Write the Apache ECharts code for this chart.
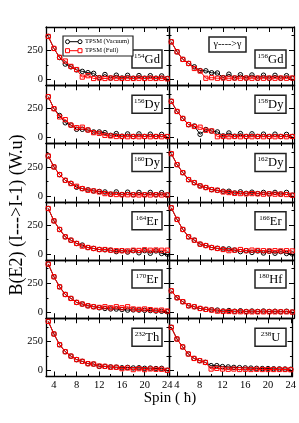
<!DOCTYPE html>
<html><head><meta charset="utf-8">
<script src="https://cdn.jsdelivr.net/npm/echarts@6/dist/echarts.min.js"></script>
<style>html,body{margin:0;padding:0;background:#fff}#c{width:299px;height:423px}</style>
</head><body><div id="c"></div>
<script>
// ---------- data ----------
const spins = [3,4,5,6,7,8,9,10,11,12,13,14,15,16,17,18,19,20,21,22,23,24];
const xMajorTicks = [4,8,12,16,20,24];
const xMinorTicks = [6,10,14,18,22];
const yMajorTicks = [0,250];
const yMinorTicks = [125,375];
const nucleusMass   = ['154','156','156','158','160','162','164','166','170','180','232','238'];
const nucleusSymbol = ['Gd','Gd','Dy','Dy','Dy','Dy','Er','Er','Er','Hf','Th','U'];
const legendNames = ['TPSM (Vacuum)','TPSM (Full)'];
const transitionLabel = 'γ---->γ';
const xTitle = 'Spin ( ħ)';
const yTitle = 'B(E2) (I--->I-1) (W.u)';

const vacuum_154Gd = [369,266,188,132,108,82,69,58,52,15,42,12,36,12,35,10,33,10,32,10,30,8];
const full_154Gd   = [369,266,190,158,112,85,20,32,8,12,8,12,10,8,10,8,10,8,10,8,10,5];
const vacuum_156Gd = [323,237,172,137,108,76,74,57,55,15,45,12,40,12,38,10,36,10,35,10,32,10];
const full_156Gd   = [323,237,172,137,94,72,10,15,10,12,10,12,10,12,10,12,10,12,10,12,10,12];
const vacuum_156Dy = [352,249,190,128,108,72,72,66,49,49,43,20,35,12,32,10,32,10,30,10,28,8];
const full_156Dy   = [352,249,178,155,108,86,90,66,43,37,20,15,10,10,8,10,8,10,8,10,8,10];
const vacuum_158Dy = [312,225,165,112,100,29,70,57,49,15,40,12,35,10,33,10,30,10,30,10,28,10];
const full_158Dy   = [312,225,165,112,96,90,64,58,8,10,8,10,8,10,8,10,8,10,8,10,8,10];
const vacuum_160Dy = [343,249,183,134,108,75,63,52,43,38,34,15,34,12,32,10,30,10,30,10,28,8];
const full_160Dy   = [343,249,183,134,106,83,63,49,43,34,20,15,12,10,10,10,8,10,8,10,8,8];
const vacuum_162Dy = [363,269,200,140,114,86,72,54,48,40,40,25,35,22,32,20,30,18,30,16,30,6];
const full_162Dy   = [363,269,200,140,114,86,72,54,49,34,29,22,20,18,20,18,15,18,15,15,12,6];
const vacuum_164Er = [392,286,212,149,120,92,78,57,49,40,38,34,22,30,18,30,12,30,8,28,6,0];
const full_164Er   = [392,286,212,149,120,92,69,57,49,40,40,34,30,30,28,34,32,38,34,36,34,34];
const vacuum_166Er = [398,298,212,149,120,86,74,57,50,45,45,35,22,30,15,28,10,25,8,22,6,2];
const full_166Er   = [398,298,212,149,120,86,74,57,49,40,30,34,40,30,35,32,30,28,30,28,30,28];
const vacuum_170Er = [415,306,220,154,120,86,72,57,49,40,34,30,29,25,20,22,20,18,16,12,10,6];
const full_170Er   = [415,306,220,154,120,86,72,57,49,43,49,40,49,40,49,30,26,30,24,18,20,12];
const vacuum_180Hf = [186,126,92,57,49,34,26,22,20,12,16,10,14,8,12,8,12,8,10,6,10,3];
const full_180Hf   = [186,126,92,57,49,34,26,20,11,8,8,6,6,5,5,5,5,5,5,5,5,3];
const vacuum_232Th = [423,315,223,163,125,95,80,60,57,37,37,32,30,25,28,23,25,20,22,18,20,3];
const full_232Th   = [423,315,223,163,125,95,80,60,57,40,37,29,29,17,23,9,17,9,15,12,12,3];
const vacuum_238U  = [372,272,204,143,105,86,71,43,43,35,32,28,26,24,22,20,18,18,16,15,14,12];
const full_238U    = [372,272,204,143,105,86,71,14,20,14,12,14,10,12,10,12,10,10,10,10,10,8];

const vacuumSets = [vacuum_154Gd,vacuum_156Gd,vacuum_156Dy,vacuum_158Dy,vacuum_160Dy,vacuum_162Dy,
                    vacuum_164Er,vacuum_166Er,vacuum_170Er,vacuum_180Hf,vacuum_232Th,vacuum_238U];
const fullSets = [full_154Gd,full_156Gd,full_156Dy,full_158Dy,full_160Dy,full_162Dy,
                  full_164Er,full_166Er,full_170Er,full_180Hf,full_232Th,full_238U];

// ---------- layout / style ----------
const FONT = "'Liberation Serif','Times New Roman',serif";
const colLeft = [46, 169], colWidth = [123, 125];
const rowTop0 = 27, rowH = 58.25;
const X_MIN = 2.6, X_MAX = 24.3, Y_MIN = -50, Y_MAX = 450;
const AX = {color:'#000', width:1.3};

const grids = [], xAxes = [], yAxes = [], series = [], graphics = [];

function xAxis(g, pos, major, showLabel){
  return {gridIndex:g, type:'value', min:X_MIN, max:X_MAX, position:pos,
    axisLine:{show:major, onZero:false, lineStyle:AX},
    axisTick:{show:true, inside:true, length: major?5:2.5, customValues: major?xMajorTicks:xMinorTicks, lineStyle:{color:'#000',width:1}},
    axisLabel:{show:showLabel, customValues:xMajorTicks, fontFamily:FONT, fontSize:10.5, color:'#000', margin:3},
    splitLine:{show:false}};
}
function yAxis(g, pos, major, showLabel){
  return {gridIndex:g, type:'value', min:Y_MIN, max:Y_MAX, position:pos,
    axisLine:{show:major, onZero:false, lineStyle:AX},
    axisTick:{show:true, inside:true, length: major?5:2.5, customValues: major?yMajorTicks:yMinorTicks, lineStyle:{color:'#000',width:1}},
    axisLabel:{show:showLabel, customValues:yMajorTicks, fontFamily:FONT, fontSize:10.5, color:'#000', margin:3},
    splitLine:{show:false}};
}

for (let g = 0; g < 12; g++) {
  const r = Math.floor(g/2), c = g % 2;
  const top = rowTop0 + r*rowH;
  grids.push({left:colLeft[c], top:top, width:colWidth[c], height:rowH, containLabel:false});
  const xi = xAxes.length, yi = yAxes.length;
  xAxes.push(xAxis(g,'bottom',true, r===5));
  xAxes.push(xAxis(g,'bottom',false,false));
  xAxes.push(xAxis(g,'top',true,false));
  xAxes.push(xAxis(g,'top',false,false));
  yAxes.push(yAxis(g,'left',true, c===0));
  yAxes.push(yAxis(g,'left',false,false));
  yAxes.push(yAxis(g,'right',true,false));
  yAxes.push(yAxis(g,'right',false,false));
  series.push({type:'line', name:legendNames[0], xAxisIndex:xi, yAxisIndex:yi,
    data: spins.map((s,i)=>[s, vacuumSets[g][i]]),
    symbol:'circle', symbolSize:4.5, z:2, silent:true,
    lineStyle:{color:'#000', width:1},
    itemStyle:{color:'rgba(255,255,255,0)', borderColor:'#000', borderWidth:1}});
  series.push({type:'line', name:legendNames[1], xAxisIndex:xi, yAxisIndex:yi,
    data: spins.map((s,i)=>[s, fullSets[g][i]]),
    symbol:'rect', symbolSize:4.2, z:3, silent:true,
    lineStyle:{color:'#ff0000', width:1},
    itemStyle:{color:'rgba(255,255,255,0)', borderColor:'#ff0000', borderWidth:1}});

  // nucleus label box
  const bw = c===0 ? 30 : 31;
  const bx = colLeft[c] + colWidth[c] - (c===0 ? 37 : 39);
  const by = top + (r===0 ? 23 : 10);
  graphics.push({type:'rect', shape:{x:bx, y:by, width:bw, height:18}, z:10,
    style:{fill:'#fff', stroke:'#222', lineWidth:1.5}});
  graphics.push({type:'text', z:11, style:{
    text:'{s|'+nucleusMass[g]+'}{e|'+nucleusSymbol[g]+'}',
    x:bx+bw/2, y:by+9.5, align:'center', verticalAlign:'middle',
    rich:{s:{fontFamily:FONT, fontSize:7, fill:'#000', verticalAlign:'top', lineHeight:8},
          e:{fontFamily:FONT, fontSize:12.5, fill:'#000', lineHeight:14}}}});
}

// legend box (panel 1)
graphics.push({type:'rect', shape:{x:63, y:36, width:70, height:20}, z:10, style:{fill:'#fff', stroke:'#222', lineWidth:1.2}});
graphics.push({type:'line', shape:{x1:67.5, y1:41.7, x2:80, y2:41.7}, z:11, style:{stroke:'#000', lineWidth:1}});
graphics.push({type:'circle', shape:{cx:67.5, cy:41.7, r:2}, z:12, style:{fill:'#fff', stroke:'#000', lineWidth:1}});
graphics.push({type:'circle', shape:{cx:80, cy:41.7, r:2}, z:12, style:{fill:'#fff', stroke:'#000', lineWidth:1}});
graphics.push({type:'text', z:11, style:{text:legendNames[0], x:85, y:41.7, verticalAlign:'middle', fontFamily:FONT, fontSize:6.5, fill:'#000'}});
graphics.push({type:'line', shape:{x1:67.5, y1:50.7, x2:80, y2:50.7}, z:11, style:{stroke:'#ff0000', lineWidth:1}});
graphics.push({type:'rect', shape:{x:65.5, y:48.7, width:4, height:4}, z:12, style:{fill:'#fff', stroke:'#ff0000', lineWidth:1}});
graphics.push({type:'rect', shape:{x:78, y:48.7, width:4, height:4}, z:12, style:{fill:'#fff', stroke:'#ff0000', lineWidth:1}});
graphics.push({type:'text', z:11, style:{text:legendNames[1], x:85, y:50.7, verticalAlign:'middle', fontFamily:FONT, fontSize:6.5, fill:'#000'}});

// gamma -> gamma box
graphics.push({type:'rect', shape:{x:209, y:37, width:37, height:15}, z:10, style:{fill:'#fff', stroke:'#222', lineWidth:1.5}});
graphics.push({type:'text', z:11, style:{text:transitionLabel, x:227.5, y:44.5, align:'center', verticalAlign:'middle', fontFamily:FONT, fontSize:10, fill:'#000'}});

// axis titles
graphics.push({type:'text', z:11, x:17, y:215, rotation:Math.PI/2, style:{text:yTitle, x:0, y:0, align:'center', verticalAlign:'middle', fontFamily:FONT, fontSize:18, fill:'#000'}});
graphics.push({type:'text', z:11, style:{text:xTitle, x:170, y:398, align:'center', verticalAlign:'middle', fontFamily:FONT, fontSize:15, fill:'#000'}});

const chart = echarts.init(document.getElementById('c'), null, {renderer:'canvas'});
chart.setOption({
  animation:false,
  backgroundColor:'#fff',
  grid:grids, xAxis:xAxes, yAxis:yAxes, series:series, graphic:graphics
});
</script></body></html>
